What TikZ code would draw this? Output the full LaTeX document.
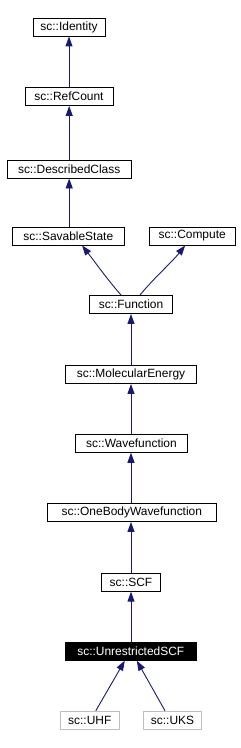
\documentclass[tikz,border=0pt]{standalone}
\usepackage{fontspec}
\setmainfont{Liberation Sans}
\usetikzlibrary{arrows.meta}
\definecolor{edgeblue}{HTML}{191970}
\definecolor{graybox}{HTML}{BFBFBF}
\begin{document}
\begin{tikzpicture}[x=1bp,y=1bp,
  cls/.style={draw=black, line width=0.9bp, fill=white, inner sep=0pt, minimum height=18bp, font=\fontsize{12}{13}\selectfont, text=black},
  grayc/.style={cls, draw=graybox},
  curc/.style={cls, fill=black, text=white},
  inh/.style={draw=edgeblue, line width=0.9bp, -{Triangle[length=10bp,width=7bp]}, edgeblue}]
\useasboundingbox (0,0) rectangle (240,-748);
\node[cls, minimum width=72bp] (identity) at (69,-27) {sc::Identity};
\node[cls, minimum width=88bp] (refcount) at (69,-96.5) {sc::RefCount};
\node[cls, minimum width=124bp] (described) at (69.2,-169) {sc::DescribedClass};
\node[cls, minimum width=112bp] (savable) at (68.3,-236) {sc::SavableState};
\node[cls, minimum width=86bp] (compute) at (192.2,-236) {sc::Compute};
\node[cls, minimum width=83bp] (function) at (131,-304.5) {sc::Function};
\node[cls, minimum width=131bp] (molenergy) at (131,-374.5) {sc::MolecularEnergy};
\node[cls, minimum width=112bp] (wavefn) at (131.5,-443.3) {sc::Wavefunction};
\node[cls, minimum width=169bp] (onebody) at (131.8,-512.5) {sc::OneBodyWavefunction};
\node[cls, minimum width=59bp] (scf) at (131,-582.2) {sc::SCF};
\node[curc, minimum width=131bp] (uscf) at (130.8,-651.2) {sc::UnrestrictedSCF};
\node[grayc, minimum width=59bp] (uhf) at (89.8,-720.2) {sc::UHF};
\node[grayc, minimum width=58bp] (uks) at (172.5,-720.2) {sc::UKS};
\draw[inh] (refcount) -- (identity);
\draw[inh] (described) -- (described.north |- refcount.south);
\draw[inh] (savable.north -| described.south) -- (described);
\draw[inh] ([xshift=-10bp]function.north) .. controls (107,-279) and (95,-262) .. ([xshift=13.7bp]savable.south);
\draw[inh] ([xshift=9bp]function.north) .. controls (153,-279) and (172,-262) .. ([xshift=-7bp]compute.south);
\draw[inh] (molenergy) -- (function);
\draw[inh] (wavefn.north -| molenergy.south) -- (molenergy);
\draw[inh] (onebody.north -| molenergy.south) -- (wavefn.south -| molenergy.south);
\draw[inh] (scf) -- (scf.north |- onebody.south);
\draw[inh] (uscf.north -| scf.south) -- (scf);
\draw[inh] ([xshift=6bp]uhf.north) -- ([xshift=-6bp]uscf.south);
\draw[inh] ([xshift=-7.5bp]uks.north) -- ([xshift=6bp]uscf.south);
\end{tikzpicture}
\end{document}
